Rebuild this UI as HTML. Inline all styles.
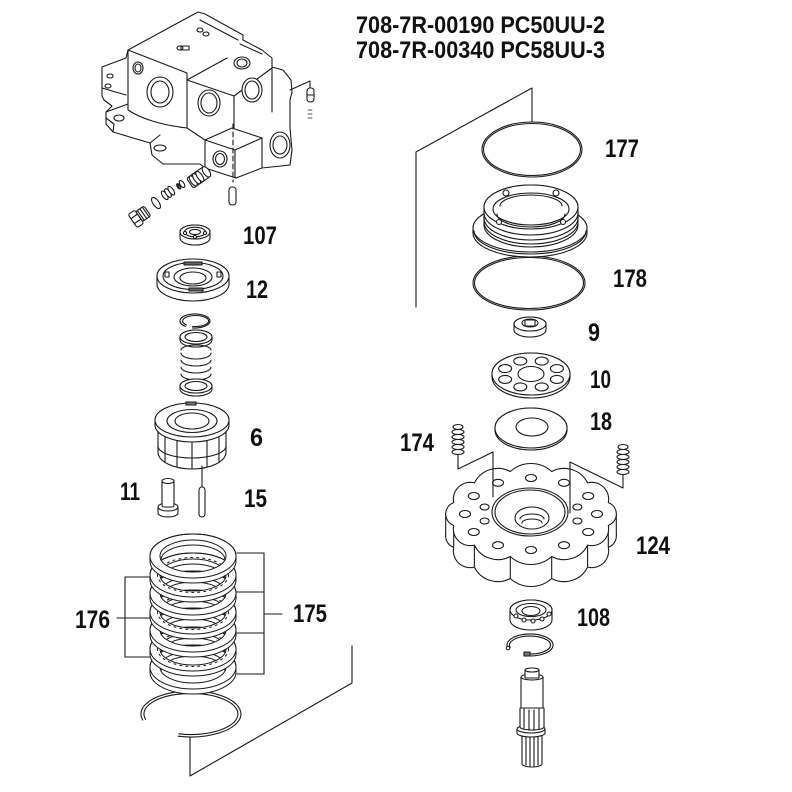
<!DOCTYPE html>
<html><head><meta charset="utf-8"><style>
html,body{margin:0;padding:0;background:#fff;}
svg{display:block;}
text{font-family:"Liberation Sans",Arial,sans-serif;font-weight:bold;fill:#111;}
</style></head><body>
<svg width="792" height="792" viewBox="0 0 792 792" xmlns="http://www.w3.org/2000/svg">
<rect width="792" height="792" fill="#fff"/>
<g fill="#fff" stroke="#1a1a1a" stroke-width="1.1" stroke-linejoin="round" stroke-linecap="round">

<!-- ===== MOTOR BLOCK ===== -->
<path d="M128,50 L198,12 L205,14 L243,35 L243,40 L262,50 L272,58 L272,67 L283,70 L291,80 L292,92 L290,100 L290,128 L292,150 L290,165 L262,168 L236,178 L205,168 L200,164 L163,164 L152,155 L150,143 L113,132 L106,124 L106,112 L112,106 L104,100 L102,96 L102,67 L126,58 Z"/>
<path fill="none" d="M128,50 L187,73 L187,128 M128,50 L128,110 M106,112 L128,104 M128,110 C140,118 160,125 187,128 M187,80 L227,58 M187,80 L234,96 L272,68 M234,96 L234,128 M200,20 L238,40 M205,140 L232,128 L262,138 M205,140 L235,150 L262,138 M205,140 L205,168 M235,150 L235,178 M262,138 L262,168 M272,67 L272,112 M150,143 L160,135 M187,128 L205,140 M102,88 L126,95 M113,132 L114,124 L106,118 M240,44 L262,54"/>
<ellipse cx="160" cy="92" rx="13" ry="15"/><ellipse cx="160" cy="92" rx="9" ry="11"/>
<ellipse cx="209" cy="103" rx="11" ry="13"/><ellipse cx="209" cy="103" rx="8" ry="10"/>
<ellipse cx="252" cy="90" rx="10" ry="12"/><ellipse cx="252" cy="90" rx="7" ry="9"/>
<ellipse cx="242" cy="63" rx="8" ry="6"/><ellipse cx="242" cy="63" rx="5" ry="4"/>
<ellipse cx="220" cy="159" rx="7" ry="8"/><ellipse cx="220" cy="159" rx="4.5" ry="5.5"/>
<ellipse cx="138" cy="68" rx="5" ry="6"/><ellipse cx="138" cy="68" rx="3" ry="4"/>
<ellipse cx="280" cy="145" rx="10" ry="13"/><ellipse cx="280" cy="145" rx="7" ry="9"/>
<ellipse cx="200" cy="30" rx="3" ry="2"/><ellipse cx="206" cy="34" rx="3" ry="2"/><ellipse cx="180" cy="48" rx="3" ry="2"/>
<ellipse cx="110" cy="76" rx="3" ry="2"/><ellipse cx="108" cy="86" rx="3" ry="2"/>
<ellipse cx="119" cy="118" rx="5" ry="3"/><ellipse cx="160" cy="148" rx="6" ry="3"/>
<rect x="181" y="46" width="8" height="4" fill="none"/>

<line x1="233" y1="124" x2="233" y2="182" stroke-dasharray="5,3"/>
<rect x="229" y="187" width="7" height="18" rx="3"/>
<path fill="none" d="M290,90 L310,81 L310,88"/>
<rect x="307" y="88" width="7" height="14" rx="3"/>
<line x1="307" y1="95" x2="314" y2="95"/>
<path fill="none" stroke-width="0.8" d="M308,110 L312,110 M308,114 L312,114 M308,118 L312,118"/>

<g transform="translate(199,177) rotate(-35)">
 <rect x="-11" y="-6" width="20" height="12" rx="2"/>
 <ellipse cx="-7" cy="0" rx="2.5" ry="6"/><ellipse cx="-3" cy="0" rx="2.5" ry="6"/><ellipse cx="1" cy="0" rx="2.5" ry="6"/><ellipse cx="9" cy="0" rx="3" ry="6"/>
</g>
<g transform="translate(182,184) rotate(-35)"><ellipse cx="0" cy="0" rx="2" ry="4"/><ellipse cx="-4" cy="0" rx="1.5" ry="3" fill="#333"/></g>
<g transform="translate(168,193) rotate(-35)"><ellipse cx="-4" cy="0" rx="2.2" ry="5"/><ellipse cx="0" cy="0" rx="2.2" ry="5"/><ellipse cx="4" cy="0" rx="2.2" ry="5"/></g>
<ellipse cx="0" cy="0" rx="3" ry="6.5" transform="translate(156,203) rotate(-35)"/>
<g transform="translate(140,216) rotate(-35)">
 <rect x="-1" y="-6" width="10" height="12" rx="2"/>
 <path fill="none" d="M1,-6 L1,6 M4,-6 L4,6 M7,-6 L7,6"/>
 <rect x="-9" y="-8" width="8" height="16" rx="2"/>
 <line x1="-9" y1="-3" x2="-1" y2="-3"/><line x1="-9" y1="3" x2="-1" y2="3"/>
</g>

<!-- ===== 107 bearing ===== -->
<path d="M180,232 A15,7 0 0 1 210,232 L210,238 A15,7 0 0 1 180,238 Z"/>
<ellipse cx="195" cy="232" rx="15" ry="7"/>
<ellipse cx="195" cy="232" rx="10.5" ry="4.8" fill="none"/>
<ellipse cx="195" cy="232" rx="5.5" ry="2.6"/>
<circle cx="185" cy="233" r="1.6"/><circle cx="205" cy="233" r="1.6"/><circle cx="195" cy="237" r="1.6"/>

<!-- ===== 12 plate ===== -->
<path d="M157,276 A36,17 0 0 1 229,276 L229,284 A36,17 0 0 1 157,284 Z"/>
<ellipse cx="193" cy="276" rx="36" ry="17"/>
<ellipse cx="193" cy="276" rx="30" ry="13.5" fill="none"/>
<ellipse cx="193" cy="277" rx="19" ry="9" fill="none"/>
<ellipse cx="193" cy="278" rx="13" ry="6" fill="none"/>
<rect x="184" y="262" width="18" height="3" fill="#666"/>
<rect x="189" y="288" width="14" height="3" fill="#666"/>
<rect x="165" y="272" width="4" height="5" fill="none"/><rect x="217" y="272" width="4" height="5" fill="none"/>

<!-- snap ring -->
<path fill="none" d="M185.4,326.4 A15,7 0 1 1 192.4,327.9"/>
<path fill="none" d="M186.6,325.0 A13,5.5 0 1 1 192.7,326.4"/>
<!-- washer 1 -->
<path d="M180,337 A16,7 0 0 1 212,337 L212,340 A16,7 0 0 1 180,340 Z"/>
<ellipse cx="196" cy="337" rx="16" ry="7"/><ellipse cx="196" cy="337" rx="11" ry="4.5"/>
<!-- spring -->
<path fill="none" d="M181,350 A15,5 0 0 1 211,350 M181,353 A15,6 0 0 0 211,353 M181,360 A15,6 0 0 0 211,360 M181,367 A15,6 0 0 0 211,367 M181,374 A15,6 0 0 0 211,374"/>
<!-- washer 2 -->
<path d="M180,386 A16,7 0 0 1 212,386 L212,389 A16,7 0 0 1 180,389 Z"/>
<ellipse cx="196" cy="386" rx="16" ry="7"/><ellipse cx="196" cy="386" rx="11" ry="4.5"/>

<!-- ===== 6 cylinder block ===== -->
<path d="M158,424 L158,452 A34,17 0 0 0 226,452 L226,424 Z"/>
<path fill="none" d="M165,432 L165,462 M177,436 L177,467 M192,437 L192,469 M207,436 L207,467 M219,432 L219,462 M158,446 A34,12 0 0 0 226,446"/>
<path d="M155,420 A37,17 0 0 1 229,420 L229,425 A37,17 0 0 1 155,425 Z"/>
<ellipse cx="192" cy="420" rx="37" ry="17"/>
<ellipse cx="192" cy="421" rx="25" ry="11.5" fill="none"/>
<ellipse cx="192" cy="421" rx="17" ry="8"/>
<rect x="186" y="402" width="10" height="3" fill="#777"/>
<line x1="202" y1="466" x2="202" y2="487"/>

<!-- 11 pin -->
<path d="M158,507 L158,513 A10,4 0 0 0 178,513 L178,507 Z"/>
<ellipse cx="168" cy="507" rx="10" ry="4"/>
<rect x="162" y="480" width="12" height="27" rx="2"/>
<ellipse cx="168" cy="481" rx="6" ry="2.5"/>
<!-- 15 rod -->
<rect x="199" y="487" width="6" height="30" rx="3"/>

<!-- ===== bottom circlip ===== -->
<path fill="none" d="M142.7,720 A50,23 0 1 1 178.1,736.2"/>
<path fill="none" d="M145.6,719.4 A47,20.5 0 1 1 178.9,733.8"/>

<!-- ===== plates 175/176 ===== -->
<g stroke-width="1">
<g transform="translate(0,667)">
<path fill-rule="evenodd" d="M150,0 A43,22 0 0 1 236,0 L236,5 A43,22 0 0 1 150,5 Z M160,0 A33,16 0 1 0 226,0 A33,16 0 1 0 160,0 Z"/>
<ellipse cx="193" cy="0" rx="43" ry="22" fill="none"/><path fill="none" d="M161,4 A32,15 0 0 1 225,4"/>
</g>
<g transform="translate(0,649)">
<path fill-rule="evenodd" d="M150,0 A43,22 0 0 1 236,0 L236,5 A43,22 0 0 1 150,5 Z M160,0 A33,16 0 1 0 226,0 A33,16 0 1 0 160,0 Z"/>
<ellipse cx="193" cy="0" rx="43" ry="22" fill="none"/><path fill="none" d="M161,4 A32,15 0 0 1 225,4"/>
<ellipse cx="193" cy="0" rx="35.5" ry="17.5" fill="none" stroke-dasharray="2 4" stroke-width="1"/>
</g>
<g transform="translate(0,630)">
<path fill-rule="evenodd" d="M150,0 A43,22 0 0 1 236,0 L236,5 A43,22 0 0 1 150,5 Z M160,0 A33,16 0 1 0 226,0 A33,16 0 1 0 160,0 Z"/>
<ellipse cx="193" cy="0" rx="43" ry="22" fill="none"/><path fill="none" d="M161,4 A32,15 0 0 1 225,4"/>
</g>
<g transform="translate(0,612)">
<path fill-rule="evenodd" d="M150,0 A43,22 0 0 1 236,0 L236,5 A43,22 0 0 1 150,5 Z M160,0 A33,16 0 1 0 226,0 A33,16 0 1 0 160,0 Z"/>
<ellipse cx="193" cy="0" rx="43" ry="22" fill="none"/><path fill="none" d="M161,4 A32,15 0 0 1 225,4"/>
<ellipse cx="193" cy="0" rx="35.5" ry="17.5" fill="none" stroke-dasharray="2 4" stroke-width="1"/>
</g>
<g transform="translate(0,593)">
<path fill-rule="evenodd" d="M150,0 A43,22 0 0 1 236,0 L236,5 A43,22 0 0 1 150,5 Z M160,0 A33,16 0 1 0 226,0 A33,16 0 1 0 160,0 Z"/>
<ellipse cx="193" cy="0" rx="43" ry="22" fill="none"/><path fill="none" d="M161,4 A32,15 0 0 1 225,4"/>
</g>
<g transform="translate(0,575)">
<path fill-rule="evenodd" d="M150,0 A43,22 0 0 1 236,0 L236,5 A43,22 0 0 1 150,5 Z M160,0 A33,16 0 1 0 226,0 A33,16 0 1 0 160,0 Z"/>
<ellipse cx="193" cy="0" rx="43" ry="22" fill="none"/><path fill="none" d="M161,4 A32,15 0 0 1 225,4"/>
<ellipse cx="193" cy="0" rx="35.5" ry="17.5" fill="none" stroke-dasharray="2 4" stroke-width="1"/>
</g>
<g transform="translate(0,556)">
<path fill-rule="evenodd" d="M150,0 A43,22 0 0 1 236,0 L236,5 A43,22 0 0 1 150,5 Z M160,0 A33,16 0 1 0 226,0 A33,16 0 1 0 160,0 Z"/>
<ellipse cx="193" cy="0" rx="43" ry="22" fill="none"/><path fill="none" d="M161,4 A32,15 0 0 1 225,4"/>
</g>
</g>

<!-- brackets -->
<path fill="none" d="M150,577 L125,577 L125,657 L150,657 M117,618 L150,618"/>
<path fill="none" d="M237,553 L264,553 L264,674 L237,674 M237,592 L264,592 M237,633 L264,633 M264,614 L282,614"/>
<path fill="none" d="M190,737 L190,776 L352,683 L352,646"/>

<!-- ===== RIGHT COLUMN ===== -->
<path fill="none" d="M532,122 L532,88 L416,152 L416,307"/>
<!-- 177 -->
<ellipse cx="532" cy="149.5" rx="50" ry="27.5" fill="none"/>
<ellipse cx="532" cy="149.5" rx="48.5" ry="26" fill="none"/>
<!-- 178 -->
<ellipse cx="529" cy="283" rx="56" ry="27" fill="none"/>
<ellipse cx="529" cy="283" rx="54.5" ry="25.5" fill="none"/>
<!-- housing -->
<path d="M473,228 A57,24 0 0 1 587,228 L587,233 A57,24 0 0 1 473,233 Z"/>
<ellipse cx="530" cy="228" rx="57" ry="24"/>
<path fill="none" d="M474,231 A56,23 0 0 0 586,231"/>
<path d="M484,207 A47,22 0 0 1 578,207 L578,225 A47,22 0 0 1 484,225 Z"/>
<path fill="none" d="M484,213 A47,22 0 0 0 578,213 M484,218 A47,22 0 0 0 578,218 M484,222 A47,22 0 0 0 578,222"/>
<ellipse cx="531" cy="207" rx="47" ry="22"/>
<ellipse cx="531" cy="209" rx="38" ry="16"/>
<path fill="none" d="M497,214 A34,13 0 0 0 565,214 M500,206 A31,11 0 0 1 562,206"/>
<circle cx="506" cy="193" r="3"/><circle cx="556" cy="193" r="3"/>
<circle cx="499" cy="222" r="2.5"/><circle cx="563" cy="222" r="2.5"/>

<!-- 9 bushing -->
<path d="M514,324 A16,7 0 0 1 546,324 L546,330 A16,7 0 0 1 514,330 Z"/>
<ellipse cx="530" cy="324" rx="16" ry="7"/>
<ellipse cx="530" cy="323" rx="8" ry="4"/>
<rect x="525" y="320" width="10" height="6" fill="none"/>

<!-- 10 plate -->
<path d="M492,374 A39,21 0 0 1 570,374 L570,377 A39,21 0 0 1 492,377 Z"/>
<ellipse cx="531" cy="374" rx="39" ry="21"/>
<ellipse cx="531" cy="374" rx="13" ry="7.5"/>
<ellipse cx="556.9" cy="379.4" rx="6.5" ry="4"/><ellipse cx="541.7" cy="386.9" rx="6.5" ry="4"/>
<ellipse cx="520.3" cy="386.9" rx="6.5" ry="4"/><ellipse cx="505.1" cy="379.4" rx="6.5" ry="4"/>
<ellipse cx="505.1" cy="368.6" rx="6.5" ry="4"/><ellipse cx="520.3" cy="361.1" rx="6.5" ry="4"/>
<ellipse cx="541.7" cy="361.1" rx="6.5" ry="4"/><ellipse cx="556.9" cy="368.6" rx="6.5" ry="4"/>

<!-- 18 washer -->
<path d="M495,428 A36,20 0 0 1 567,428 L567,430 A36,20 0 0 1 495,430 Z"/>
<ellipse cx="531" cy="428" rx="36" ry="20"/>
<ellipse cx="532" cy="427" rx="16" ry="9"/>

<!-- 174 springs -->
<g>
<ellipse cx="458" cy="452" rx="6" ry="2.5"/><ellipse cx="458" cy="447" rx="6" ry="2.5"/><ellipse cx="458" cy="442" rx="6" ry="2.5"/>
<ellipse cx="458" cy="437" rx="6" ry="2.5"/><ellipse cx="458" cy="432" rx="6" ry="2.5"/><ellipse cx="458" cy="427" rx="5" ry="2.5"/>
</g>
<g>
<ellipse cx="623" cy="472" rx="6" ry="2.5"/><ellipse cx="623" cy="467" rx="6" ry="2.5"/><ellipse cx="623" cy="462" rx="6" ry="2.5"/>
<ellipse cx="623" cy="457" rx="6" ry="2.5"/><ellipse cx="623" cy="452" rx="6" ry="2.5"/><ellipse cx="623" cy="447" rx="5" ry="2.5"/>
</g>

<!-- 124 cover -->
<path transform="translate(0,22)" d="M608.3,502.6 A12.1,12.1 0 0 1 608.3,525.4 A16.8,16.8 0 0 1 587.6,545.1 A26.2,26.2 0 0 1 551.7,556.5 A30.8,30.8 0 0 1 510.3,556.5 A26.2,26.2 0 0 1 474.4,545.1 A16.8,16.8 0 0 1 453.7,525.4 A12.1,12.1 0 0 1 453.7,502.6 A16.8,16.8 0 0 1 474.4,482.9 A26.2,26.2 0 0 1 510.3,471.5 A30.8,30.8 0 0 1 551.7,471.5 A26.2,26.2 0 0 1 587.6,482.9 A16.8,16.8 0 0 1 608.3,502.6 Z"/>
<polygon stroke="none" points="608.3,502.6 608.3,525.4 587.6,545.1 551.7,556.5 510.3,556.5 474.4,545.1 453.7,525.4 453.7,502.6 453.7,524.6 453.7,547.4 474.4,567.1 510.3,578.5 551.7,578.5 587.6,567.1 608.3,547.4 608.3,524.6"/>
<rect x="445.7" y="514" width="9" height="22" stroke="none"/>
<rect x="607.3" y="514" width="9" height="22" stroke="none"/>
<path fill="none" d="M445.7,514 L445.7,536 M616.3,514 L616.3,536 M608.3,525.4 L608.3,547.4 M587.6,545.1 L587.6,567.1 M551.7,556.5 L551.7,578.5 M510.3,556.5 L510.3,578.5 M474.4,545.1 L474.4,567.1 M453.7,525.4 L453.7,547.4"/>
<path d="M608.3,502.6 A12.1,12.1 0 0 1 608.3,525.4 A16.8,16.8 0 0 1 587.6,545.1 A26.2,26.2 0 0 1 551.7,556.5 A30.8,30.8 0 0 1 510.3,556.5 A26.2,26.2 0 0 1 474.4,545.1 A16.8,16.8 0 0 1 453.7,525.4 A12.1,12.1 0 0 1 453.7,502.6 A16.8,16.8 0 0 1 474.4,482.9 A26.2,26.2 0 0 1 510.3,471.5 A30.8,30.8 0 0 1 551.7,471.5 A26.2,26.2 0 0 1 587.6,482.9 A16.8,16.8 0 0 1 608.3,502.6 Z"/>
<ellipse cx="597" cy="514" rx="5.5" ry="3.5"/><ellipse cx="588.2" cy="532" rx="5.5" ry="3.5"/>
<ellipse cx="564" cy="545.2" rx="5.5" ry="3.5"/><ellipse cx="531" cy="550" rx="5.5" ry="3.5"/>
<ellipse cx="498" cy="545.2" rx="5.5" ry="3.5"/><ellipse cx="473.8" cy="532" rx="5.5" ry="3.5"/>
<ellipse cx="465" cy="514" rx="5.5" ry="3.5"/><ellipse cx="473.8" cy="496" rx="5.5" ry="3.5"/>
<ellipse cx="498" cy="482.8" rx="5.5" ry="3.5"/><ellipse cx="531" cy="478" rx="5.5" ry="3.5"/>
<ellipse cx="564" cy="482.8" rx="5.5" ry="3.5"/><ellipse cx="588.2" cy="496" rx="5.5" ry="3.5"/>
<ellipse cx="484.6" cy="521" rx="4.5" ry="3"/><ellipse cx="484.6" cy="507" rx="4.5" ry="3"/>
<ellipse cx="577.4" cy="521" rx="4.5" ry="3"/><ellipse cx="577.4" cy="507" rx="4.5" ry="3"/>
<ellipse cx="530" cy="512" rx="38" ry="24"/>
<ellipse cx="530" cy="512" rx="35" ry="22" fill="none"/>
<ellipse cx="532" cy="518" rx="17" ry="11"/>
<path fill="none" d="M520,519 A12,5 0 0 1 544,519 M522,523 A10,4 0 0 1 542,523"/>

<!-- leaders for 174 -->
<path fill="none" d="M458,455 L458,469 L493,452 L493,497"/>
<path fill="none" d="M623,475 L623,488 L570,462 L570,513"/>

<!-- 108 bearing -->
<path d="M510,610 A21,10 0 0 1 552,610 L552,620 A21,10 0 0 1 510,620 Z"/>
<ellipse cx="531" cy="610" rx="21" ry="10"/>
<ellipse cx="531" cy="610" rx="15" ry="6.5" fill="none"/>
<ellipse cx="531" cy="611" rx="9" ry="4.5"/>
<circle cx="516" cy="616" r="2"/><circle cx="524" cy="620" r="2"/><circle cx="533" cy="621" r="2"/><circle cx="542" cy="619" r="2"/><circle cx="549" cy="614" r="2"/>
<!-- snap ring -->
<path fill="none" d="M507.8,647.8 A23,11 0 1 1 526,655.8"/>
<path fill="none" d="M510.2,647.3 A20.5,9 0 1 1 526.4,653.9"/>
<circle cx="508" cy="648" r="1.8"/><rect x="524" y="652" width="6" height="4" fill="#777"/>

<!-- shaft -->
<path d="M522,735 L522,764 A10,3 0 0 0 542,764 L542,735 Z"/>
<path fill="none" d="M526,736 L526,765 M530,736 L530,766 M534,736 L534,766 M538,736 L538,765"/>
<path d="M517,729 L517,733 A14,4 0 0 0 545,733 L545,729 Z"/>
<ellipse cx="531" cy="729" rx="14" ry="4"/>
<path d="M520,708 L520,727 A12,3 0 0 0 544,727 L544,708 Z"/>
<path fill="none" d="M524,709 L524,729 M529,710 L529,730 M534,710 L534,730 M539,709 L539,729"/>
<rect x="521" y="677" width="22" height="31"/>
<ellipse cx="532" cy="677" rx="11" ry="3"/>
<rect x="525" y="670" width="14" height="8" rx="1"/>
<ellipse cx="532" cy="670" rx="7" ry="2"/>
</g>

<!-- ===== TEXT ===== -->
<text x="356" y="33" font-size="24.5" textLength="249" lengthAdjust="spacingAndGlyphs">708-7R-00190 PC50UU-2</text>
<text x="356" y="58" font-size="24.5" textLength="249" lengthAdjust="spacingAndGlyphs">708-7R-00340 PC58UU-3</text>

<g font-size="25">
<text x="243" y="244" textLength="34" lengthAdjust="spacingAndGlyphs">107</text>
<text x="246" y="298" textLength="22" lengthAdjust="spacingAndGlyphs">12</text>
<text x="250" y="446" textLength="13" lengthAdjust="spacingAndGlyphs">6</text>
<text x="120" y="500" textLength="20" lengthAdjust="spacingAndGlyphs">11</text>
<text x="244" y="507" textLength="23" lengthAdjust="spacingAndGlyphs">15</text>
<text x="75" y="628" textLength="35" lengthAdjust="spacingAndGlyphs">176</text>
<text x="293" y="622" textLength="34" lengthAdjust="spacingAndGlyphs">175</text>
<text x="605" y="157" textLength="34" lengthAdjust="spacingAndGlyphs">177</text>
<text x="613" y="287" textLength="34" lengthAdjust="spacingAndGlyphs">178</text>
<text x="588" y="341" textLength="12" lengthAdjust="spacingAndGlyphs">9</text>
<text x="590" y="388" textLength="21" lengthAdjust="spacingAndGlyphs">10</text>
<text x="590" y="430" textLength="22" lengthAdjust="spacingAndGlyphs">18</text>
<text x="400" y="451" textLength="34" lengthAdjust="spacingAndGlyphs">174</text>
<text x="636" y="554" textLength="34" lengthAdjust="spacingAndGlyphs">124</text>
<text x="577" y="626" textLength="33" lengthAdjust="spacingAndGlyphs">108</text>
</g>
</svg>
</body></html>
